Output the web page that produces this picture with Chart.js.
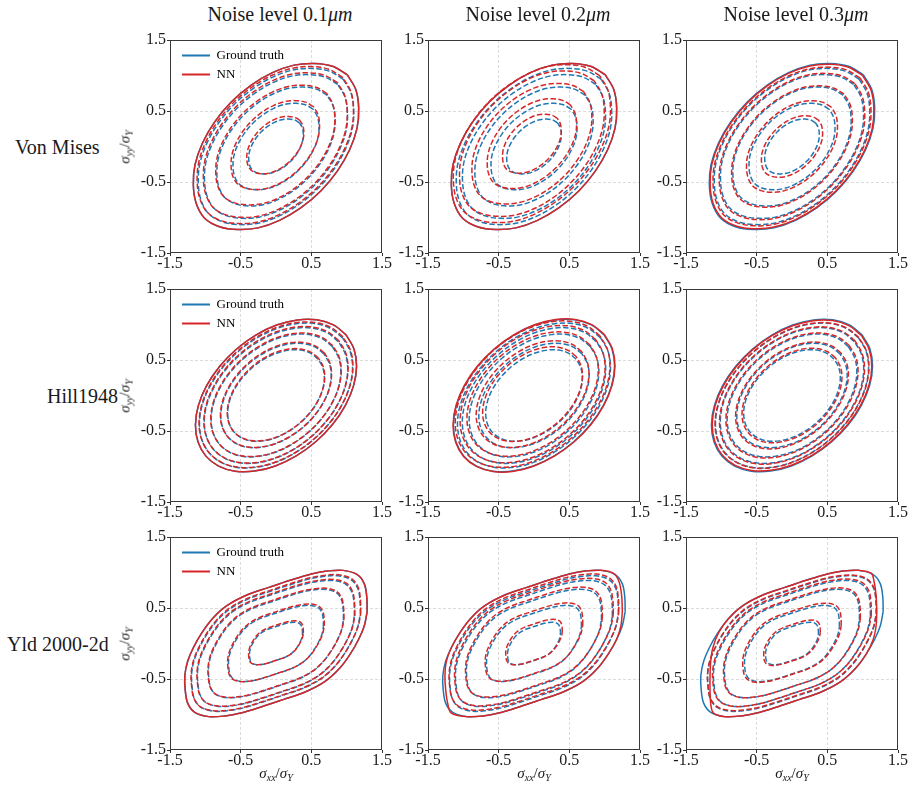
<!DOCTYPE html>
<html>
<head>
<meta charset="utf-8">
<script src="https://cdn.jsdelivr.net/npm/chart.js@4.4.1/dist/chart.umd.min.js"></script>
<style>
    body { margin: 0; background: #fff; width: 915px; height: 795px; position: relative; overflow: hidden;
           font-family: 'Liberation Serif', 'Times New Roman', serif; color: #1a1a1a; }
    canvas { position: absolute; }
    .txt { position: absolute; white-space: nowrap; line-height: 1; }
    .title { font-size: 20px; transform: translate(-50%, -50%); }
    .rowname { font-size: 20px; transform: translateY(-50%); }
    .ylab { font-size: 15px; transform: translate(-50%, -50%) rotate(-90deg); }
    .xlab { font-size: 15px; transform: translate(-50%, -50%); }
    .txt sub { font-size: 10px; font-style: italic; vertical-align: -3px; }
</style>
</head>
<body>
<script>
    const noiseLevels = ['0.1', '0.2', '0.3'];
    const modelNames = ['Von Mises', 'Hill1948', 'Yld 2000-2d'];
    const tickValues = [-1.5, -0.5, 0.5, 1.5];

    const vonMisesX = [1.01, 0.80, 0.54, 0.255, -0.05, -0.35, -0.63, -0.865, -1.04, -1.146, -1.17, -1.13,
        -1.01, -0.80, -0.54, -0.255, 0.05, 0.35, 0.63, 0.865, 1.04, 1.146, 1.17, 1.13, 1.01];
    const vonMisesY = [1.01, 1.13, 1.17, 1.146, 1.04, 0.865, 0.63, 0.35, 0.05, -0.255, -0.54, -0.80,
        -1.01, -1.13, -1.17, -1.146, -1.04, -0.865, -0.63, -0.35, -0.05, 0.255, 0.54, 0.80, 1.01];

    const hillX = [0.992, 0.812, 0.578, 0.304, 0.009, -0.286, -0.562, -0.799, -0.982, -1.099, -1.140, -1.103,
        -0.992, -0.812, -0.578, -0.304, -0.009, 0.286, 0.562, 0.799, 0.982, 1.099, 1.140, 1.103, 0.992];
    const hillY = [0.854, 0.994, 1.066, 1.065, 0.992, 0.851, 0.652, 0.409, 0.138, -0.143, -0.414, -0.656,
        -0.854, -0.994, -1.066, -1.065, -0.992, -0.851, -0.652, -0.409, -0.138, 0.143, 0.414, 0.656, 0.854];

    const yldX = [1.29, 1.285, 1.25, 1.15, 0.95, 0.72, 0.50, 0.20, -0.10, -0.42, -0.70, -0.90, -1.05, -1.17, -1.25,
        -1.29, -1.285, -1.25, -1.15, -0.95, -0.72, -0.50, -0.20, 0.10, 0.42, 0.70, 0.90, 1.05, 1.17, 1.25, 1.29];
    const yldY = [0.45, 0.65, 0.84, 0.97, 1.03, 1.02, 0.98, 0.89, 0.79, 0.68, 0.53, 0.35, 0.15, -0.06, -0.25,
        -0.45, -0.65, -0.84, -0.97, -1.03, -1.02, -0.98, -0.89, -0.79, -0.68, -0.53, -0.35, -0.15, 0.06, 0.25, 0.45];

    // NN outer contours for Yld 2000-2d at 0.2um and 0.3um noise (flattened sides)
    const yldNoisy2X = [1.25, 1.24, 1.20, 1.12, 0.95, 0.72, 0.50, 0.20, -0.10, -0.42, -0.70, -0.90, -1.05, -1.17, -1.24,
        -1.26, -1.25, -1.22, -1.17, -0.95, -0.72, -0.50, -0.20, 0.10, 0.42, 0.70, 0.90, 1.05, 1.17, 1.23, 1.25];
    const yldNoisy2Y = [0.45, 0.68, 0.88, 0.99, 1.03, 1.02, 0.98, 0.89, 0.79, 0.68, 0.53, 0.35, 0.15, -0.06, -0.25,
        -0.45, -0.65, -0.85, -0.98, -1.03, -1.02, -0.98, -0.89, -0.79, -0.68, -0.53, -0.35, -0.15, 0.06, 0.25, 0.45];
    const yldNoisy3X = [1.20, 1.19, 1.16, 1.12, 0.95, 0.72, 0.50, 0.20, -0.10, -0.42, -0.70, -0.90, -1.04, -1.12, -1.15,
        -1.16, -1.16, -1.15, -1.11, -0.95, -0.72, -0.50, -0.20, 0.10, 0.42, 0.70, 0.90, 1.05, 1.15, 1.19, 1.20];
    const yldNoisy3Y = [0.45, 0.68, 0.88, 0.99, 1.03, 1.02, 0.98, 0.89, 0.79, 0.68, 0.53, 0.35, 0.15, -0.06, -0.25,
        -0.45, -0.65, -0.85, -0.98, -1.03, -1.02, -0.98, -0.89, -0.79, -0.68, -0.53, -0.35, -0.15, 0.06, 0.25, 0.45];

    // contour levels relative to the outer contour (first = solid, rest dashed)
    const vonMisesGT = [1.00, 0.94, 0.865, 0.715, 0.52, 0.33];
    const vonMisesNN = [
        [1.00, 0.945, 0.87, 0.72, 0.535, 0.345],
        [1.00, 0.95, 0.875, 0.725, 0.54, 0.355],
        [0.99, 0.955, 0.88, 0.73, 0.55, 0.37]
    ];
    const hillGT = [1.00, 0.95, 0.89, 0.805, 0.685, 0.60];
    const hillNN = [
        [1.00, 0.955, 0.895, 0.81, 0.69, 0.605],
        [1.005, 0.96, 0.90, 0.815, 0.70, 0.62],
        [0.99, 0.955, 0.90, 0.82, 0.70, 0.62]
    ];
    const yldGT = [1.00, 0.925, 0.86, 0.74, 0.52, 0.29];
    const yldNN = [
        [1.00, 0.93, 0.865, 0.745, 0.53, 0.30],
        [1.00, 0.93, 0.87, 0.75, 0.535, 0.31],
        [1.00, 0.925, 0.87, 0.75, 0.54, 0.31]
    ];

    // offset of the NN dashed contours from the ground truth, per noise level
    const vonMisesShiftX = [-0.01, -0.03, 0.00];
    const vonMisesShiftY = [0.02, 0.04, 0.00];
    const hillShiftX = [0.00, -0.02, 0.00];
    const hillShiftY = [0.01, 0.02, 0.00];
    const yldShiftX = [0.00, 0.00, 0.00];
    const yldShiftY = [0.01, 0.02, 0.01];

    const rows = [
        { shapeX: vonMisesX, shapeY: vonMisesY, gt: vonMisesGT, nn: vonMisesNN,
          dx: vonMisesShiftX, dy: vonMisesShiftY, nnOuter: [null, null, null] },
        { shapeX: hillX, shapeY: hillY, gt: hillGT, nn: hillNN,
          dx: hillShiftX, dy: hillShiftY, nnOuter: [null, null, null] },
        { shapeX: yldX, shapeY: yldY, gt: yldGT, nn: yldNN,
          dx: yldShiftX, dy: yldShiftY, nnOuter: [null, [yldNoisy2X, yldNoisy2Y], [yldNoisy3X, yldNoisy3Y]] }
    ];

    const BLUE = '#1f77b4';
    const RED = '#d62728';
    const SERIF = 'Liberation Serif';

    const plotLeft = [170, 428, 686];
    const plotTop = [40, 289, 537];
    const PLOT_W = 212, PLOT_H = 213;
    const AXIS_W = 48, AXIS_H = 26, PAD_T = 12, PAD_R = 18;

    function ringPoints(xs, ys, level, dx, dy) {
        return xs.map((x, i) => ({ x: x * level + dx, y: ys[i] * level + dy }));
    }

    function ringDataset(points, color, dashed) {
        return {
            data: points,
            borderColor: color,
            backgroundColor: color,
            borderWidth: 1.5,
            borderDash: dashed ? [5.5, 2.4] : [],
            pointRadius: 0,
            showLine: true,
            fill: false,
            tension: 0.35,
            order: color === RED ? 0 : 1
        };
    }

    function buildDatasets(row, col) {
        const r = rows[row];
        const sets = [];
        r.gt.forEach((lv, i) => {
            sets.push(ringDataset(ringPoints(r.shapeX, r.shapeY, lv, 0, 0), BLUE, i > 0));
        });
        r.nn[col].forEach((lv, i) => {
            const outer = i === 0 ? r.nnOuter[col] : null;
            let pts;
            if (outer) {
                pts = ringPoints(outer[0], outer[1], lv, 0, 0);
            } else if (i === 0) {
                pts = ringPoints(r.shapeX, r.shapeY, lv, 0, 0);
            } else {
                pts = ringPoints(r.shapeX, r.shapeY, lv, r.dx[col], r.dy[col]);
            }
            sets.push(ringDataset(pts, RED, i > 0));
        });
        return sets;
    }

    function axisConfig(isX) {
        return {
            type: 'linear',
            min: -1.5,
            max: 1.5,
            afterBuildTicks: s => { s.ticks = tickValues.map(v => ({ value: v })); },
            afterFit: s => {
                if (isX) {
                    s.height = AXIS_H; s.paddingLeft = 0; s.paddingRight = 0;
                } else {
                    s.width = AXIS_W; s.paddingTop = 0; s.paddingBottom = 0;
                }
            },
            ticks: {
                font: { family: SERIF, size: 16 },
                color: '#1a1a1a',
                padding: isX ? -2 : 1,
                maxRotation: 0,
                autoSkip: false,
                callback: v => v.toFixed(1)
            },
            grid: {
                color: c => (c.tick && Math.abs(c.tick.value) > 1) ? 'rgba(0,0,0,0)' : '#d2d2d2',
                lineWidth: 0.8,
                tickColor: '#333',
                tickLength: 3,
                tickWidth: 1
            },
            border: { display: false, dash: [3, 2] }
        };
    }

    const framePlugin = {
        id: 'frame',
        afterDraw(chart) {
            const { ctx, chartArea: a } = chart;
            ctx.save();
            ctx.strokeStyle = '#3a3a3a';
            ctx.lineWidth = 1;
            ctx.strokeRect(a.left + 0.5, a.top + 0.5, a.right - a.left - 1, a.bottom - a.top - 1);
            ctx.restore();
        }
    };

    const legendPlacer = {
        id: 'legendPlacer',
        afterLayout(chart) {
            const lg = chart.legend;
            if (!lg || !lg.options.display) return;
            const a = chart.chartArea;
            lg.left = a.left + 6;
            lg.top = a.top + 3;
            lg.right = a.right;
            lg.bottom = a.bottom;
        }
    };

    function makePanel(row, col) {
        const canvas = document.createElement('canvas');
        canvas.width = AXIS_W + PLOT_W + PAD_R;
        canvas.height = PAD_T + PLOT_H + AXIS_H;
        canvas.style.left = (plotLeft[col] - AXIS_W) + 'px';
        canvas.style.top = (plotTop[row] - PAD_T) + 'px';
        document.body.appendChild(canvas);

        const showLegend = col === 0;
        new Chart(canvas, {
            type: 'scatter',
            data: { datasets: buildDatasets(row, col) },
            options: {
                responsive: false,
                animation: false,
                devicePixelRatio: 1,
                events: [],
                layout: { padding: { top: PAD_T, right: PAD_R, left: 0, bottom: 0 } },
                plugins: {
                    tooltip: { enabled: false },
                    legend: {
                        display: showLegend,
                        position: 'chartArea',
                        align: 'start',
                        labels: {
                            boxWidth: 28,
                            boxHeight: 2,
                            padding: 6,
                            color: '#1a1a1a',
                            font: { family: SERIF, size: 13 },
                            generateLabels: () => [
                                { text: 'Ground truth', fillStyle: BLUE, strokeStyle: BLUE, lineWidth: 0, hidden: false, datasetIndex: 0 },
                                { text: 'NN', fillStyle: RED, strokeStyle: RED, lineWidth: 0, hidden: false, datasetIndex: 6 }
                            ]
                        }
                    }
                },
                scales: { x: axisConfig(true), y: axisConfig(false) }
            },
            plugins: [framePlugin, legendPlacer]
        });
    }

    function addText(cls, html, left, top) {
        const d = document.createElement('div');
        d.className = 'txt ' + cls;
        d.innerHTML = html;
        d.style.left = left + 'px';
        d.style.top = top + 'px';
        document.body.appendChild(d);
    }

    const rowNameLeft = [15, 47, 7];

    for (let r = 0; r < 3; r++) {
        for (let c = 0; c < 3; c++) makePanel(r, c);
        const midY = plotTop[r] + PLOT_H / 2;
        addText('rowname', modelNames[r], rowNameLeft[r], midY);
        addText('ylab', '<i>σ</i><sub>yy</sub>/<i>σ</i><sub>Y</sub>', 126, midY);
    }
    for (let c = 0; c < 3; c++) {
        const midX = plotLeft[c] + PLOT_W / 2;
        addText('title', 'Noise level ' + noiseLevels[c] + '<i>μm</i>', midX + 4, 14);
        addText('xlab', '<i>σ</i><sub>xx</sub>/<i>σ</i><sub>Y</sub>', midX, 774);
    }
</script>
</body>
</html>
